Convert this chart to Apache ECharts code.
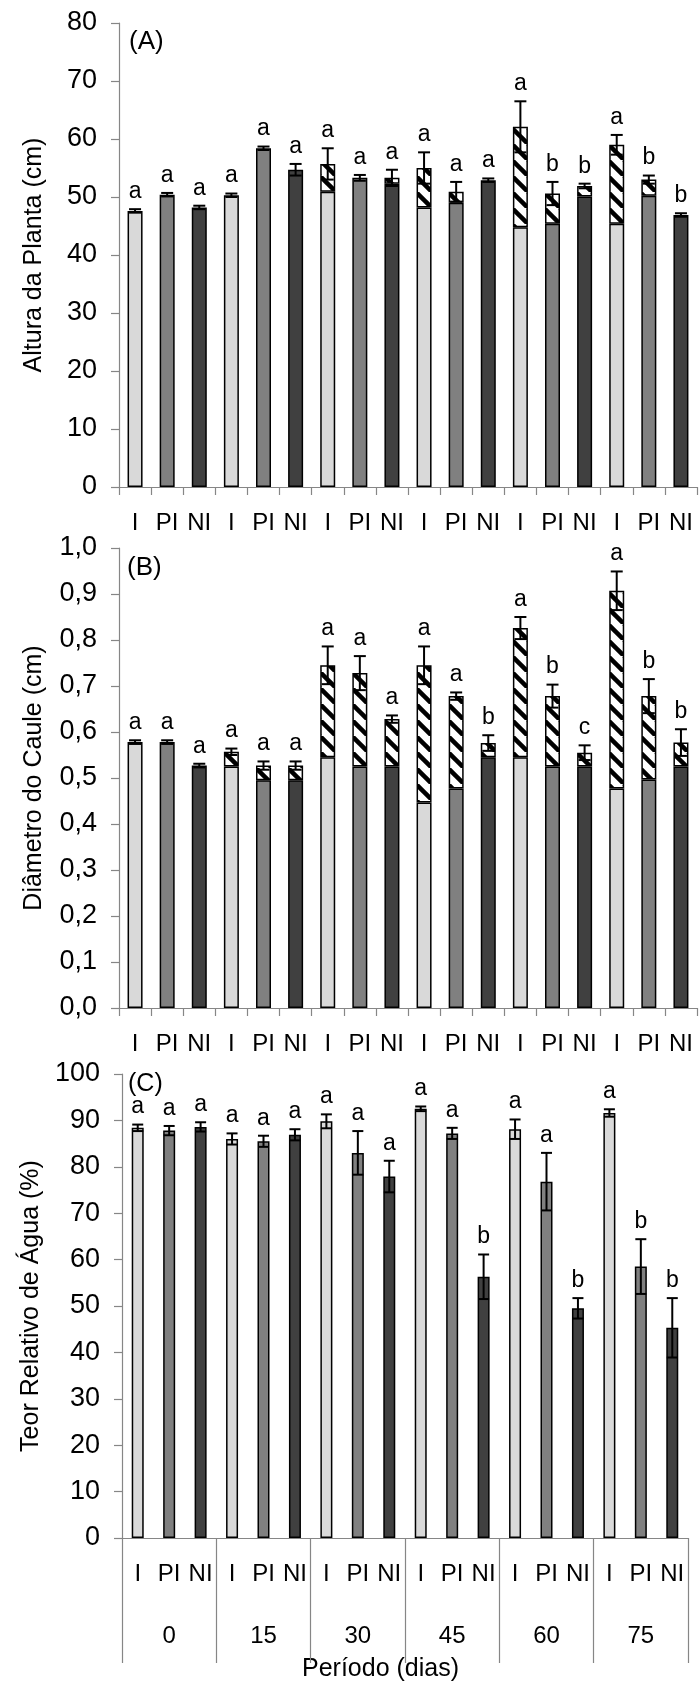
<!DOCTYPE html>
<html>
<head>
<meta charset="utf-8">
<title>Altura, diâmetro e teor relativo de água</title>
<script src="https://cdn.jsdelivr.net/npm/echarts@6.0.0/dist/echarts.min.js"></script>
<style>
    html, body { margin: 0; padding: 0; background: #fff; }
    #chart { width: 699px; height: 1683px; }
</style>
</head>
<body>
<div id="chart"></div>
<script>
// categorias do eixo x
var tratamentos = ['I', 'PI', 'NI', 'I', 'PI', 'NI', 'I', 'PI', 'NI', 'I', 'PI', 'NI', 'I', 'PI', 'NI', 'I', 'PI', 'NI'];
var periodos = ['0', '15', '30', '45', '60', '75'];

// (A) altura da planta (cm)
var alturaTopo = [47.6, 50.4, 48.2, 50.3, 58.4, 54.7, 55.7, 53.3, 53.3, 55.0, 50.9, 52.9, 62.1, 50.6, 51.9, 59.0, 53.0, 46.9];
var alturaBase = [47.6, 50.4, 48.2, 50.3, 58.4, 54.7, 50.9, 53.3, 52.3, 48.2, 49.0, 52.9, 44.8, 45.4, 50.1, 45.4, 50.2, 46.9];
var alturaErro = [0.3, 0.3, 0.3, 0.3, 0.3, 1.0, 2.7, 0.5, 1.4, 2.7, 1.7, 0.3, 4.4, 2.0, 0.4, 1.7, 0.7, 0.3];
var alturaLetra = ['a', 'a', 'a', 'a', 'a', 'a', 'a', 'a', 'a', 'a', 'a', 'a', 'a', 'b', 'b', 'a', 'b', 'b'];

// (B) diametro do caule (cm)
var diametroTopo = [0.578, 0.578, 0.527, 0.557, 0.527, 0.527, 0.745, 0.728, 0.628, 0.745, 0.678, 0.576, 0.826, 0.678, 0.555, 0.907, 0.678, 0.577];
var diametroBase = [0.578, 0.578, 0.527, 0.525, 0.495, 0.495, 0.545, 0.525, 0.525, 0.447, 0.477, 0.545, 0.545, 0.525, 0.525, 0.477, 0.497, 0.525];
var diametroErro = [0.004, 0.004, 0.004, 0.007, 0.009, 0.009, 0.041, 0.037, 0.008, 0.041, 0.008, 0.017, 0.024, 0.025, 0.016, 0.042, 0.037, 0.029];
var diametroLetra = ['a', 'a', 'a', 'a', 'a', 'a', 'a', 'a', 'a', 'a', 'a', 'b', 'a', 'b', 'c', 'a', 'b', 'b'];

// (C) teor relativo de agua (%)
var teorValor = [88.4, 87.8, 88.6, 86.0, 85.5, 86.9, 89.8, 83.0, 77.9, 92.5, 87.2, 56.3, 88.1, 76.8, 49.5, 91.6, 58.5, 45.3];
var teorErro = [0.7, 1.0, 1.0, 1.2, 1.2, 1.2, 1.5, 4.7, 3.4, 0.5, 1.2, 4.8, 2.1, 6.2, 2.2, 0.8, 5.9, 6.4];
var teorLetra = ['a', 'a', 'a', 'a', 'a', 'a', 'a', 'a', 'a', 'a', 'a', 'b', 'a', 'a', 'b', 'a', 'b', 'b'];

(function () {
    var fonte = '"Liberation Sans", Arial, sans-serif'
    var cinzaEixo = '#868686'
    var cores = ['#d9d9d9', '#808080', '#404040']

    // padrao listrado (\\\) para a parte hachurada
    function hachura() {
        var s = 16
        var c = document.createElement('canvas')
        c.width = s
        c.height = s
        var g = c.getContext('2d')
        g.fillStyle = '#fff'
        g.fillRect(0, 0, s, s)
        g.strokeStyle = '#000'
        g.lineWidth = 4.5
        for (var k = -1; k <= 1; k++) {
            g.beginPath()
            g.moveTo(k * s, 0)
            g.lineTo(k * s + s, s)
            g.stroke()
        }
        return c
    }
    var listras = { image: hachura(), repeat: 'repeat' }

    function barrasBase(vals) {
        return vals.map(function (v, i) {
            return { value: v, itemStyle: { color: cores[i % 3] } }
        })
    }
    function barrasHachura(topo, base) {
        return topo.map(function (v, i) {
            var d = v - base[i]
            return d > 0.0001 ? d : '-'
        })
    }

    // barras de erro + letras
    function erroRender(topo, erro, letra, capW) {
        return function (params, api) {
            var i = params.dataIndex
            var pTop = api.coord([i, topo[i] + erro[i]])
            var pBot = api.coord([i, topo[i] - erro[i]])
            var x = pTop[0]
            var h = capW / 2
            var st = { stroke: '#000', lineWidth: 2 }
            return {
                type: 'group',
                children: [
                    { type: 'line', shape: { x1: x, y1: pTop[1], x2: x, y2: pBot[1] }, style: st },
                    { type: 'line', shape: { x1: x - h, y1: pTop[1], x2: x + h, y2: pTop[1] }, style: st },
                    { type: 'line', shape: { x1: x - h, y1: pBot[1], x2: x + h, y2: pBot[1] }, style: st },
                    {
                        type: 'text',
                        x: x,
                        y: pTop[1] - 6,
                        style: {
                            text: letra[i],
                            align: 'center',
                            verticalAlign: 'bottom',
                            fill: '#000',
                            font: '23px ' + fonte
                        }
                    }
                ]
            }
        }
    }

    function eixoY(grid, max, intervalo, nome, fmt) {
        return {
            type: 'value',
            gridIndex: grid,
            min: 0,
            max: max,
            interval: intervalo,
            name: nome,
            nameLocation: 'middle',
            nameGap: 72,
            nameTextStyle: { fontSize: 25, color: '#000', fontFamily: fonte },
            axisLine: { show: true, lineStyle: { color: cinzaEixo, width: 1.2 } },
            axisTick: { show: true, length: 8, lineStyle: { color: cinzaEixo, width: 1.2 } },
            axisLabel: { fontSize: 27, color: '#000', margin: 22, fontFamily: fonte, formatter: fmt },
            splitLine: { show: false }
        }
    }

    function eixoX(grid, ticks) {
        return {
            type: 'category',
            gridIndex: grid,
            data: tratamentos,
            axisLine: { show: true, lineStyle: { color: cinzaEixo, width: 1.2 } },
            axisTick: { show: ticks, length: 8, interval: 0, lineStyle: { color: cinzaEixo, width: 1.2 } },
            axisLabel: { fontSize: 24, color: '#000', margin: 24, interval: 0, fontFamily: fonte }
        }
    }

    var myChart = echarts.init(document.getElementById('chart'), null, { renderer: 'canvas' })

    var option = {
        animation: false,
        textStyle: { fontFamily: fonte },
        grid: [
            { left: 119, top: 23, width: 578, height: 464 },
            { left: 119, top: 548, width: 578, height: 460 },
            { left: 122, top: 1074, width: 566, height: 464 },
            // grade so para o eixo dos periodos
            { left: 122, top: 1074, width: 566, height: 464 }
        ],
        xAxis: [
            eixoX(0, true),
            eixoX(1, true),
            eixoX(2, false),
            {
                type: 'category',
                gridIndex: 3,
                data: periodos,
                axisLine: { show: true, lineStyle: { color: cinzaEixo, width: 1.2 } },
                axisTick: { show: true, length: 125, interval: 0, lineStyle: { color: cinzaEixo, width: 1.2 } },
                axisLabel: { fontSize: 24, color: '#000', margin: 86, interval: 0, fontFamily: fonte }
            }
        ],
        yAxis: [
            eixoY(0, 80, 10, 'Altura da Planta (cm)'),
            eixoY(1, 1, 0.1, 'Diâmetro do Caule (cm)', function (v) {
                return v.toFixed(1).replace('.', ',')
            }),
            eixoY(2, 100, 10, 'Teor Relativo de Água (%)'),
            { type: 'value', gridIndex: 3, min: 0, max: 100, show: false }
        ],
        graphic: [
            { type: 'text', left: 129, top: 29, style: { text: '(A)', font: '26px ' + fonte, fill: '#000' } },
            { type: 'text', left: 127, top: 555, style: { text: '(B)', font: '26px ' + fonte, fill: '#000' } },
            { type: 'text', left: 128, top: 1072, style: { text: '(C)', font: '25px ' + fonte, fill: '#000' } },
            { type: 'text', left: 302, top: 1657, style: { text: 'Período (dias)', font: '25px ' + fonte, fill: '#000' } }
        ],
        series: [
            // (A)
            {
                type: 'bar', xAxisIndex: 0, yAxisIndex: 0, stack: 'a', barWidth: 15,
                itemStyle: { borderColor: '#000', borderWidth: 1.5 },
                data: barrasBase(alturaBase)
            },
            {
                type: 'bar', xAxisIndex: 0, yAxisIndex: 0, stack: 'a', barWidth: 15,
                itemStyle: { color: listras, borderColor: '#000', borderWidth: 1.5 },
                data: barrasHachura(alturaTopo, alturaBase)
            },
            {
                type: 'custom', xAxisIndex: 0, yAxisIndex: 0, z: 10,
                renderItem: erroRender(alturaTopo, alturaErro, alturaLetra, 12),
                data: alturaTopo.map(function (v, i) { return [i, v] })
            },
            // (B)
            {
                type: 'bar', xAxisIndex: 1, yAxisIndex: 1, stack: 'b', barWidth: 15,
                itemStyle: { borderColor: '#000', borderWidth: 1.5 },
                data: barrasBase(diametroBase)
            },
            {
                type: 'bar', xAxisIndex: 1, yAxisIndex: 1, stack: 'b', barWidth: 15,
                itemStyle: { color: listras, borderColor: '#000', borderWidth: 1.5 },
                data: barrasHachura(diametroTopo, diametroBase)
            },
            {
                type: 'custom', xAxisIndex: 1, yAxisIndex: 1, z: 10,
                renderItem: erroRender(diametroTopo, diametroErro, diametroLetra, 12),
                data: diametroTopo.map(function (v, i) { return [i, v] })
            },
            // (C)
            {
                type: 'bar', xAxisIndex: 2, yAxisIndex: 2, barWidth: 12,
                itemStyle: { borderColor: '#000', borderWidth: 1.5 },
                data: barrasBase(teorValor)
            },
            {
                type: 'custom', xAxisIndex: 2, yAxisIndex: 2, z: 10,
                renderItem: erroRender(teorValor, teorErro, teorLetra, 11),
                data: teorValor.map(function (v, i) { return [i, v] })
            }
        ]
    }

    myChart.setOption(option)

    window.addEventListener('resize', function () {
        myChart.resize()
    })
}());
</script>
</body>
</html>
